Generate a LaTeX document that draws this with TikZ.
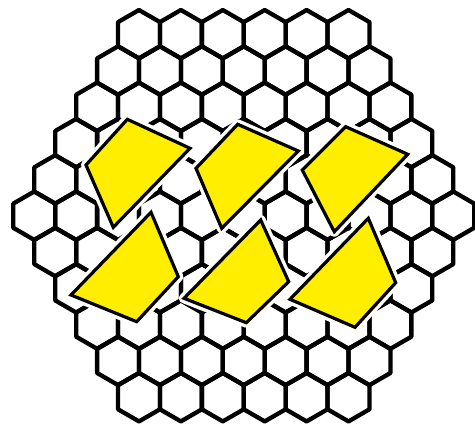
\documentclass[tikz,border=0pt]{standalone}
\definecolor{quadyellow}{RGB}{255,238,0}
\tikzset{
  hexline/.style={draw=black, line width=4.3pt, line join=round},
  halo/.style={draw=white, fill=white, line width=10pt, line join=round},
  quad/.style={fill=quadyellow, draw=black, line width=3.2pt, line join=miter}
}
\begin{document}
\begin{tikzpicture}[x=1pt,y=-1pt]
\useasboundingbox (0,0) rectangle (475,426);
\foreach \k in {0,...,10} {
  \pgfmathtruncatemacro{\m}{min(\k,10-\k)}
  \pgfmathtruncatemacro{\n}{6+\m}
  \foreach \i in {1,...,\n} {
    \pgfmathsetmacro{\cx}{139 - 20.95*\m + 41.9*(\i-1)}
    \pgfmathsetmacro{\cy}{34.2 + 36.3*\k}
    \draw[hexline] ({\cx+20.95},{\cy-12.1}) -- (\cx,{\cy-24.2}) -- ({\cx-20.95},{\cy-12.1})
      -- ({\cx-20.95},{\cy+12.1}) -- (\cx,{\cy+24.2}) -- ({\cx+20.95},{\cy+12.1}) -- cycle;
  }
}
% quadrilaterals
\foreach \a/\b/\c/\d in {
  {(127.3,119.3)}/{(190,148.3)}/{(113.3,227.3)}/{(86,165)},
  {(237.7,124.3)}/{(298.3,151)}/{(221.7,228.3)}/{(196,168.3)},
  {(345.7,126.7)}/{(407.7,154.3)}/{(334.3,231.7)}/{(302.3,170)},
  {(151,212.3)}/{(178.3,276.7)}/{(136.7,321.7)}/{(71,295)},
  {(260.7,220)}/{(288.7,281.7)}/{(246.3,322.7)}/{(184,298.3)},
  {(368.3,218.3)}/{(395.7,282.7)}/{(355,327.3)}/{(290,299.3)}} {
  \draw[halo] \a -- \b -- \c -- \d -- cycle;
  \draw[quad] \a -- \b -- \c -- \d -- cycle;
}
\end{tikzpicture}
\end{document}
